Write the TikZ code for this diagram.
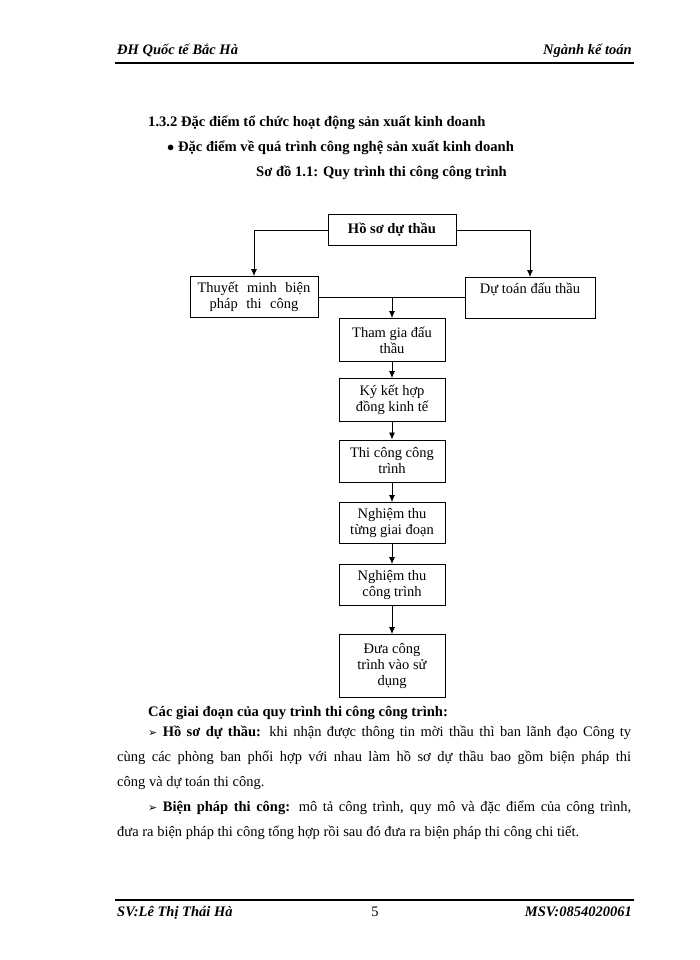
\documentclass[tikz,border=0pt]{standalone}
\usepackage{fontspec}
\setmainfont{Liberation Serif}
\usetikzlibrary{arrows.meta}
\begin{document}
\begin{tikzpicture}[x=1pt,y=-1pt,
  box/.style={draw,line width=0.9pt,align=center,font=\fontsize{14.5}{16}\selectfont,inner sep=1pt},
  arr/.style={-{Latex[length=7pt,width=6pt]},line width=0.8pt},
  body/.style={anchor=north west,text width=514pt,align=justify,inner sep=0pt,font=\fontsize{14.5}{25}\selectfont}]
\useasboundingbox (0,0) rectangle (700,960);
\fill[white] (0,0) rectangle (700,960);
% header
\node[anchor=base west,inner sep=0,font=\fontsize{14.5}{15}\selectfont\bfseries\itshape] (hl) at (117,55) {ĐH Quốc tế Bắc Hà};
\node[anchor=base east,inner sep=0,font=\fontsize{14.5}{15}\selectfont\bfseries\itshape] (hr) at (632,55) {Ngành kế toán};
\draw[line width=1.5pt] (115,63) -- (634,63);
% headings
\node[anchor=base west,inner sep=0,font=\fontsize{14.6}{15}\selectfont\bfseries] (h1) at (148,127) {1.3.2 Đặc điểm tổ chức hoạt động sản xuất kinh doanh};
\node[anchor=base west,inner sep=0,font=\fontsize{14.6}{15}\selectfont\bfseries] (h2) at (167,152) {$\bullet$ Đặc điểm về quá trình công nghệ sản xuất kinh doanh};
\node[anchor=base west,inner sep=0,font=\fontsize{14.6}{15}\selectfont\bfseries] (h3) at (256,177) {Sơ đồ 1.1: Quy trình thi công công trình};
% flowchart
\node[box,minimum width=128,minimum height=31,font=\fontsize{14.5}{16}\selectfont\bfseries] (a) at (392,230) {Hồ sơ dự thầu};
\node[box,minimum width=128,minimum height=41] (b) at (254,297) {Thuyết\,\, minh\,\, biện\\pháp\,\, thi\,\, công};
\node[box,minimum width=130,minimum height=41,anchor=north,align=center] (c) at (530,277) {Dự toán đấu thầu\\[-2pt]\strut};
\node[box,minimum width=106,minimum height=43] (d) at (392,340) {Tham gia đấu\\thầu};
\node[box,minimum width=106,minimum height=43] (e) at (392,400) {Ký kết hợp\\đồng kinh tế};
\node[box,minimum width=106,minimum height=42] (f) at (392,461) {Thi công công\\trình};
\node[box,minimum width=106,minimum height=41] (g) at (392,523) {Nghiệm thu\\từng giai đoạn};
\node[box,minimum width=106,minimum height=41] (h) at (392,585) {Nghiệm thu\\công trình};
\node[box,minimum width=106,minimum height=63] (i) at (392,666) {Đưa công\\trình vào sử\\dụng};
\draw[arr] (a.west) -| (b.north);
\draw[arr] (a.east) -| (c.north);
\draw[line width=0.8pt] (b.east) -- (c.west |- b.east);
\coordinate (mm) at (392,297);
\draw[arr] (mm) -- (d.north);
\draw[arr] (d) -- (e);
\draw[arr] (e) -- (f);
\draw[arr] (f) -- (g);
\draw[arr] (g) -- (h);
\draw[arr] (h) -- (i);
% body text
\node[anchor=base west,inner sep=0,font=\fontsize{14.6}{15}\selectfont\bfseries] (t0) at (148,716) {Các giai đoạn của quy trình thi công công trình:};
\node[body] (t1) at (117,726) {\hspace*{31pt}{\fontspec{DejaVu Sans}\fontsize{11}{12}\selectfont ➢} \textbf{Hồ sơ dự thầu:} khi nhận được thông tin mời thầu thì ban lãnh đạo Công ty\linebreak cùng các phòng ban phối hợp với nhau làm hồ sơ dự thầu bao gồm biện pháp thi\linebreak công và dự toán thi công.};
\node[body] (t2) at (117,801) {\hspace*{31pt}{\fontspec{DejaVu Sans}\fontsize{11}{12}\selectfont ➢} \textbf{Biện pháp thi công:} mô tả công trình, quy mô và đặc điểm của công trình,\linebreak đưa ra biện pháp thi công tổng hợp rồi sau đó đưa ra biện pháp thi công chi tiết.};
% footer
\draw[line width=1.2pt] (115,900) -- (634,900);
\node[anchor=base west,inner sep=0,font=\fontsize{14.5}{15}\selectfont\bfseries\itshape] (fl) at (117,916) {SV:Lê Thị Thái Hà};
\node[anchor=base,inner sep=0,font=\fontsize{14.5}{15}\selectfont] (fc) at (375,916) {5};
\node[anchor=base east,inner sep=0,font=\fontsize{14.5}{15}\selectfont\bfseries\itshape] (fr) at (632,916) {MSV:0854020061};
\end{tikzpicture}
\end{document}
